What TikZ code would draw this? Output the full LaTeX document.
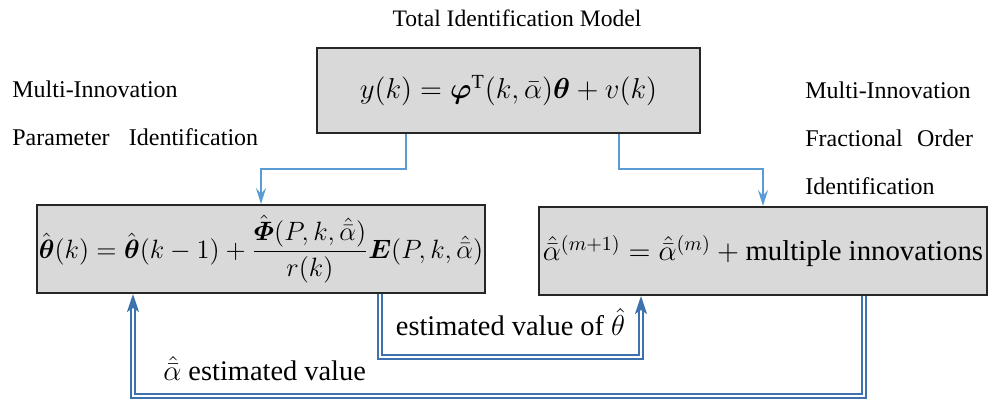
\documentclass[tikz,border=0pt]{standalone}
\usepackage{amsmath}
\usepackage{amssymb}
\usepackage{fontspec}
\setmainfont{Liberation Serif}
\usepackage{xcolor}
\usetikzlibrary{arrows.meta, positioning}

\definecolor{feedblue}{HTML}{5B9BD5}
\definecolor{loopblue}{HTML}{3D72AE}
\definecolor{boxgray}{HTML}{D9D9D9}

\begin{document}
\begin{tikzpicture}[
    x=0.5pt, y=-0.5pt,
    block/.style={rectangle, draw=black!85, line width=1pt, fill=boxgray, inner sep=0pt, font=\fontsize{14.4}{17}\selectfont},
    caption/.style={font=\fontsize{12}{24}\selectfont, align=left, inner sep=0pt},
    arrow/.style={-{Stealth[length=8pt, width=5pt, inset=3pt]}, draw=feedblue, line width=1.4pt},
    backarrow/.style={-{Stealth[length=9pt, width=6pt, inset=2pt]}, draw=loopblue, double=white, double distance=1pt, line width=0.9pt},
    tag/.style={font=\fontsize{14.2}{17}\selectfont, inner sep=1pt}
]
    \useasboundingbox (0,0) rectangle (998,402);

    % Title
    \node[font=\fontsize{11.8}{14}\selectfont] (title) at (517,18) {Total Identification Model};

    % Model block
    \node[block, minimum width=191.5pt, minimum height=42.5pt] (model) at (508.5,90.5)
        {$y(k)=\boldsymbol{\varphi}^{\mathrm{T}}(k,\bar{\alpha})\boldsymbol{\theta}+v(k)$};

    % Identification blocks
    \node[block, minimum width=224pt, minimum height=44pt] (param) at (261,249)
        {\scalebox{0.92}{$\hat{\boldsymbol{\theta}}(k)=\hat{\boldsymbol{\theta}}(k-1)+\dfrac{\hat{\boldsymbol{\varPhi}}(P,k,\hat{\bar{\alpha}})}{r(k)}\boldsymbol{E}(P,k,\hat{\bar{\alpha}})$}};
    \node[block, minimum width=224pt, minimum height=44pt] (frac) at (763,251)
        {$\hat{\bar{\alpha}}^{(m+1)}=\hat{\bar{\alpha}}^{(m)}+\text{multiple innovations}$};

    % Side captions
    \node[caption, anchor=west] (paramcap) at (12,113.5) {Multi-Innovation\\Parameter\hspace{0.8em}Identification};
    \node[caption, anchor=west] (fraccap) at (805,138) {Multi-Innovation\\Fractional\hspace{0.6em}Order\\Identification};

    % Arrows
    \draw[arrow] ([xshift=-51.25pt]model.south) -- ++(0,-17.5pt) -| (param.north);
    \draw[arrow] ([xshift=55.25pt]model.south) -- ++(0,-17.5pt) -| (frac.north);

    % Feedback
    \draw[backarrow] ([xshift=59.5pt]param.south) -- ++(0,-31.5pt)
        -| node[tag, pos=0.25, above=9pt] (thetatag) {estimated value of $\hat{\theta}$} ([xshift=-61pt]frac.south);
    \draw[backarrow] ([xshift=50.5pt]frac.south) -- ++(0,-50pt)
        -| node[tag, pos=0.41, above=6pt] (alphatag) {$\hat{\bar{\alpha}}$ estimated value} ([xshift=-64pt]param.south);
\end{tikzpicture}
\end{document}
